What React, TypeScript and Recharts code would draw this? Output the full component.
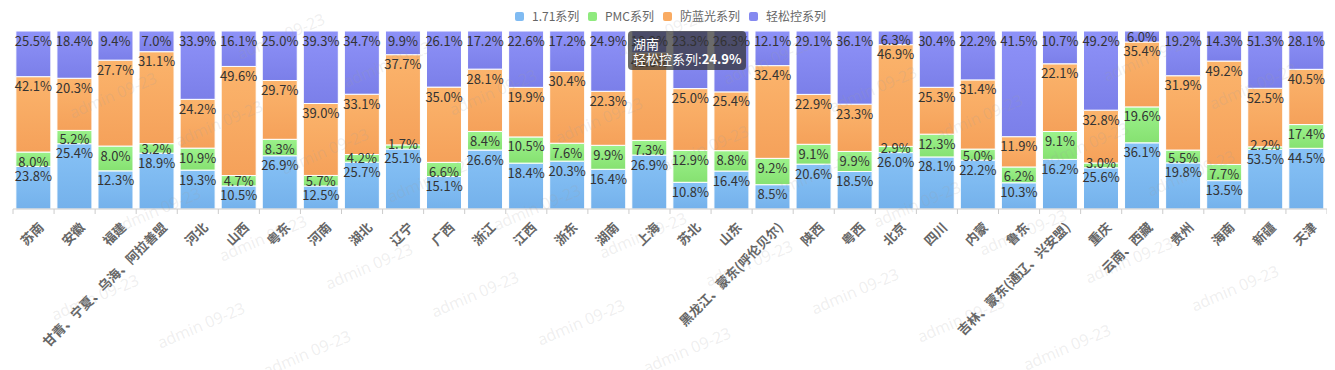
import React from 'react';
import { BarChart, Bar, XAxis, YAxis, Tooltip, LabelList } from 'recharts';

const categories = ['苏南', '安徽', '福建', '甘青、宁夏、乌海、阿拉善盟', '河北', '山西', '粤东', '河南', '湖北', '辽宁', '广西', '浙江', '江西', '浙东', '湖南', '上海', '苏北', '山东', '黑龙江、蒙东(呼伦贝尔)', '陕西', '粤西', '北京', '四川', '内蒙', '鲁东', '吉林、蒙东(通辽、兴安盟)', '重庆', '云南、西藏', '贵州', '海南', '新疆', '天津'];
const s171 = [23.8, 25.4, 12.3, 18.9, 19.3, 10.5, 26.9, 12.5, 25.7, 25.1, 15.1, 26.6, 18.4, 20.3, 16.4, 26.9, 10.8, 16.4, 8.5, 20.6, 18.5, 26.0, 28.1, 22.2, 10.3, 16.2, 25.6, 36.1, 19.8, 13.5, 53.5, 44.5];
const sPMC = [8.0, 5.2, 8.0, 3.2, 10.9, 4.7, 8.3, 5.7, 4.2, 1.7, 6.6, 8.4, 10.5, 7.6, 9.9, 7.3, 12.9, 8.8, 9.2, 9.1, 9.9, 2.9, 12.3, 5.0, 6.2, 9.1, 3.0, 19.6, 5.5, 7.7, 2.2, 17.4];
const sBlue = [42.1, 20.3, 27.7, 31.1, 24.2, 49.6, 29.7, 39.0, 33.1, 37.7, 35.0, 28.1, 19.9, 30.4, 22.3, 43.6, 25.0, 25.4, 32.4, 22.9, 23.3, 46.9, 25.3, 31.4, 11.9, 22.1, 32.8, 35.4, 31.9, 49.2, 52.5, 40.5];
const sEasy = [25.5, 18.4, 9.4, 7.0, 33.9, 16.1, 25.0, 39.3, 34.7, 9.9, 26.1, 17.2, 22.6, 17.2, 24.9, 10.9, 23.3, 26.3, 12.1, 29.1, 36.1, 6.3, 30.4, 22.2, 41.5, 10.7, 49.2, 6.0, 19.2, 14.3, 51.3, 28.1];
const seriesNames = ['1.71系列', 'PMC系列', '防蓝光系列', '轻松控系列'];
const seriesKeys = ['a', 'b', 'c', 'd'];
const seriesVals = [s171, sPMC, sBlue, sEasy];
const seriesColors = [
  ['#87c2f6', '#74b1eb'],
  ['#9cf28c', '#86e171'],
  ['#fbb46c', '#f5a15a'],
  ['#8e92f8', '#7b7fe9'],
];
const legendColors = ['#80bbf2', '#8fea7e', '#f9ab62', '#8589f0'];
const legendWidths = [73, 75, 86, 80];
const tooltipIndex = 14;
const tooltipSeries = 3;
const watermarkText = 'admin 09-23';

const data = categories.map((name, i) => ({ name, a: s171[i], b: sPMC[i], c: sBlue[i], d: sEasy[i] }));

const W = 1319;
const H = 362;
const M = { top: 23, right: 0, left: 5, bottom: 0 };
const BAND = (W - M.left - M.right) / categories.length;
const FONT = '"Noto Sans CJK SC", "Noto Sans", sans-serif';
const LABEL_OFF = 9;
const LABEL_H = 14;

const XTick = (props: any) => {
  const { x, y, payload, index } = props;
  const isLast = index === categories.length - 1;
  return (
    <g>
      <line x1={x - BAND / 2} x2={x - BAND / 2} y1={y} y2={y + 5} stroke="#ccc" />
      {isLast && <line x1={x + BAND / 2} x2={x + BAND / 2} y1={y} y2={y + 5} stroke="#ccc" />}
      <text
        transform={`translate(${x + 8},${y + 16}) rotate(-45)`}
        textAnchor="end"
        dy="0.35em"
        fill="#666"
        fontSize={13}
        fontWeight="bold"
        fontFamily={FONT}
      >
        {payload.value}
      </text>
    </g>
  );
};

// label centre for series s in column i, shifting upper labels up when they would overlap the one below
const makeLabel = (s: number) => (props: any) => {
  const { x, y, width, height, index } = props;
  const v = seriesVals[s][index];
  if (!v || !height) return null;
  const unit = height / v;
  let below = 0;
  for (let k = 0; k < s; k++) below += seriesVals[k][index];
  const bottom = y + height + below * unit;
  let cum = 0;
  let prev = Infinity;
  let c = 0;
  for (let k = 0; k <= s; k++) {
    cum += seriesVals[k][index];
    const top = bottom - cum * unit;
    c = Math.min(top + LABEL_OFF, prev - LABEL_H);
    prev = c;
  }
  return (
    <text
      x={x + width / 2}
      y={c}
      textAnchor="middle"
      dominantBaseline="central"
      fill="#333"
      fontSize={13}
      fontFamily={FONT}
    >
      {`${v.toFixed(1)}%`}
    </text>
  );
};

const TipContent = (props: any) => {
  const { payload, label } = props;
  if (!payload || !payload.length) return null;
  const idx = categories.indexOf(label);
  const v = idx >= 0 ? seriesVals[tooltipSeries][idx] : payload[0].value;
  return (
    <div
      style={{
        background: 'rgba(50,50,50,0.72)',
        color: '#fff',
        borderRadius: 4,
        padding: '5px 5px 4px 5px',
        fontFamily: FONT,
        fontSize: 13,
        lineHeight: '15px',
        whiteSpace: 'nowrap',
      }}
    >
      <div>{label}</div>
      <div>
        {seriesNames[tooltipSeries]}:<b>{Number(v).toFixed(1)}%</b>
      </div>
    </div>
  );
};

const watermarks: { x: number; y: number }[] = [];
for (let i = -4; i <= 16; i++) {
  for (let j = -3; j <= 7; j++) {
    const px = 95 + i * 106 + j * 62 - 8;
    const py = 297 + i * 28 - j * 87 - 8;
    if (px > 44 && px < W + 8 - 52 && py > 22 && py < H - 14) watermarks.push({ x: px, y: py });
  }
}

export default function App() {
  return (
    <div style={{ position: 'relative', width: W, height: H, fontFamily: FONT }}>
      <div
        style={{
          position: 'absolute',
          top: 1,
          left: 507,
          display: 'flex',
          fontSize: 12,
          color: '#666',
          lineHeight: '14px',
        }}
      >
        {seriesNames.map((n, i) => (
          <div key={n} style={{ display: 'flex', alignItems: 'center', width: legendWidths[i] }}>
            <span
              style={{
                display: 'inline-block',
                width: 9,
                height: 9,
                borderRadius: 2,
                background: legendColors[i],
                marginRight: 8,
              }}
            />
            <span>{n}</span>
          </div>
        ))}
      </div>
      <BarChart width={W} height={H} data={data} margin={M} stackOffset="expand" barCategoryGap="7%">
        <defs>
          {seriesColors.map((c, i) => (
            <linearGradient key={i} id={`g${i}`} x1="0" y1="0" x2="0" y2="1">
              <stop offset="0%" stopColor={c[0]} />
              <stop offset="100%" stopColor={c[1]} />
            </linearGradient>
          ))}
        </defs>
        <XAxis
          dataKey="name"
          interval={0}
          height={H - 201 - M.bottom}
          tickSize={0}
          tickMargin={0}
          tickLine={false}
          axisLine={{ stroke: '#ccc' }}
          tick={<XTick />}
        />
        <YAxis hide domain={[0, 1]} />
        <Tooltip
          defaultIndex={tooltipIndex}
          active
          cursor={false}
          isAnimationActive={false}
          position={{ x: 620, y: 23 }}
          content={<TipContent />}
          wrapperStyle={{ outline: 'none', zIndex: 5 }}
        />
        {seriesKeys.map((k, i) => (
          <Bar
            key={k}
            dataKey={k}
            name={seriesNames[i]}
            stackId="s"
            fill={`url(#g${i})`}
            stroke="#fff"
            strokeWidth={1}
            isAnimationActive={false}
          >
            <LabelList dataKey={k} content={makeLabel(i)} />
          </Bar>
        ))}
      </BarChart>
      <svg
        width={W}
        height={H}
        style={{ position: 'absolute', left: 0, top: 0, pointerEvents: 'none', zIndex: 2 }}
      >
        {watermarks.map((p, i) => (
          <text
            key={i}
            x={p.x}
            y={p.y}
            textAnchor="middle"
            dominantBaseline="central"
            transform={`rotate(-23 ${p.x} ${p.y})`}
            fontSize={16}
            fontFamily='"Open Sans", "Noto Sans", sans-serif'
            fill="rgba(160,160,160,0.18)"
          >
            {watermarkText}
          </text>
        ))}
      </svg>
    </div>
  );
}
